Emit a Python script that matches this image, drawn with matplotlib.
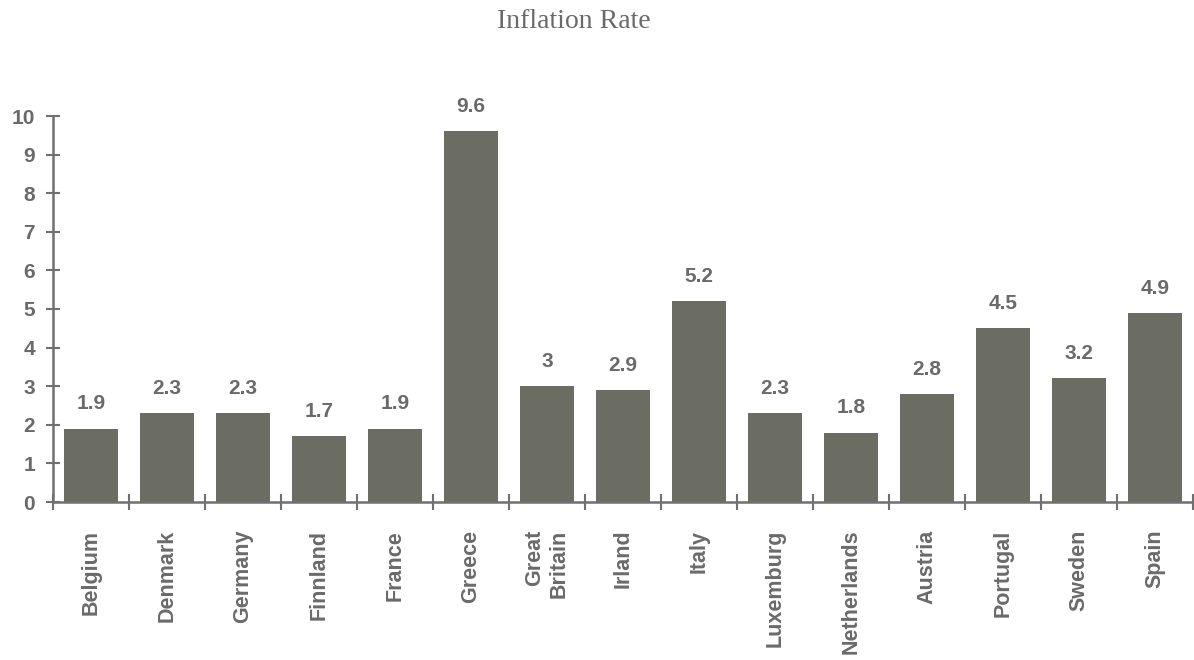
import matplotlib as mpl
mpl.use('Agg')
import matplotlib.pyplot as plt
import numpy as np

# Data
countries = ["Belgium", "Denmark", "Germany", "Finnland", "France", "Greece",
             "Great\nBritain", "Irland", "Italy", "Luxemburg", "Netherlands",
             "Austria", "Portugal", "Sweden", "Spain"]
inflation = [1.9, 2.3, 2.3, 1.7, 1.9, 9.6, 3, 2.9, 5.2, 2.3, 1.8, 2.8, 4.5, 3.2, 4.9]
value_labels = ["1.9", "2.3", "2.3", "1.7", "1.9", "9.6", "3", "2.9", "5.2",
                "2.3", "1.8", "2.8", "4.5", "3.2", "4.9"]
yticks = [0, 1, 2, 3, 4, 5, 6, 7, 8, 9, 10]

bar_color = '#6b6d62'
text_color = '#6a6a6a'
axis_color = '#707070'

fig = plt.figure(figsize=(11.94, 6.6), dpi=100)
ax = fig.add_axes([53/1194, 1-502/660, (1193-53)/1194, (502-116)/660])

x = np.arange(len(countries))
ax.bar(x, inflation, width=0.7, color=bar_color)

for xi, v, lab in zip(x, inflation, value_labels):
    ax.annotate(lab, (xi, v), xytext=(0, 11), textcoords='offset points',
                ha='center', va='bottom', fontsize=15, fontweight='bold',
                color=text_color, family='Liberation Sans', annotation_clip=False)

ax.set_xlim(-0.5, len(countries)-0.5)
ax.set_ylim(0, 10)

# category labels at centres, tick marks at boundaries
ax.set_xticks(x)
ax.set_xticklabels(countries, rotation=90, ha='center', va='top',
                   multialignment='right', fontsize=15.5, fontweight='bold',
                   family='Liberation Sans', color=text_color)
ax.set_xticks(np.arange(-0.5, len(countries), 1), minor=True)
ax.tick_params(axis='x', which='major', length=0, pad=20)
ax.tick_params(axis='x', which='minor', direction='inout', length=12,
               width=1.5, color=axis_color)

ax.set_yticks(yticks)
ax.set_yticklabels([str(t) for t in yticks], fontsize=15, fontweight='bold',
                   family='Liberation Sans', color=text_color)
ax.tick_params(axis='y', direction='inout', length=10, width=1.5,
               color=axis_color, pad=8)

for s in ['top', 'right']:
    ax.spines[s].set_visible(False)
for s in ['left', 'bottom']:
    ax.spines[s].set_color(axis_color)
    ax.spines[s].set_linewidth(1.8)

fig.text(574/1194, 1-22/660, "Inflation Rate", ha='center', va='center',
         fontsize=20, family='Liberation Serif', color=text_color)

fig.savefig("out.png", dpi=100)
